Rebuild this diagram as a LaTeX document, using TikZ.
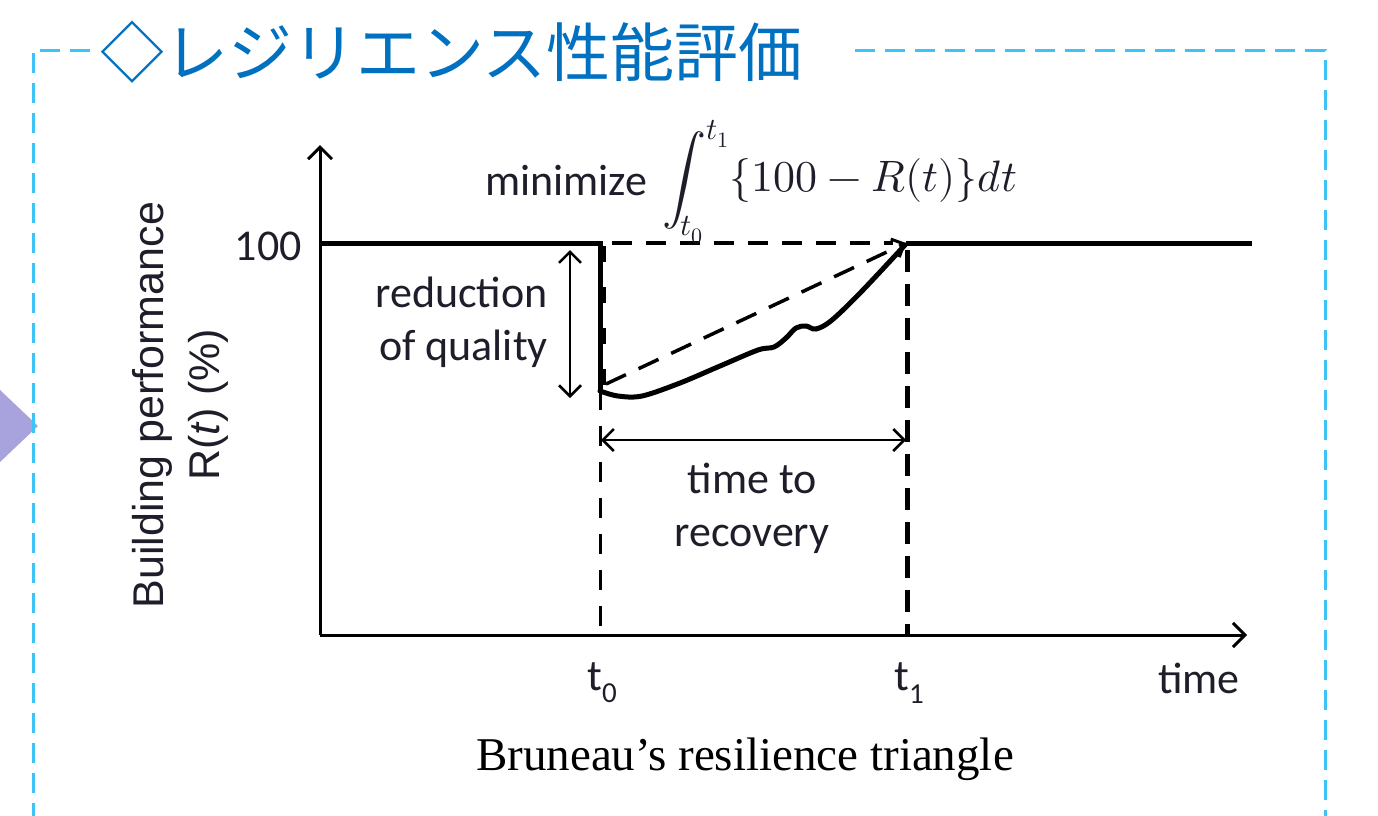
\documentclass[tikz,border=0pt]{standalone}
\usepackage{fontspec}
\usepackage{unicode-math}
\setmathfont{Latin Modern Math}
\usetikzlibrary{arrows.meta}
\newfontfamily\jpfont{Noto Sans CJK JP}
\newfontfamily\calfont{Carlito}
\newfontfamily\arialfont{Liberation Sans}
\newfontfamily\timesfont{Liberation Serif}
\definecolor{bordercol}{HTML}{3EC3F7}
\definecolor{titlecol}{HTML}{0070C0}
\definecolor{tricol}{HTML}{A8A3DD}
\definecolor{inkcol}{HTML}{1E1E2A}
\begin{document}
\begin{tikzpicture}[x=1pt,y=-1pt,
  border/.style={draw=bordercol,line width=3pt,dash pattern=on 20pt off 10pt},
  lbl/.style={inner sep=0pt,text=inkcol,font=\calfont\fontsize{44}{53}\selectfont},
  ylbl/.style={inner sep=0pt,text=inkcol,align=center,font=\arialfont\fontsize{43}{56}\selectfont},
  caplbl/.style={inner sep=0pt,text=black,font=\timesfont\fontsize{47}{56}\selectfont},
  axisline/.style={draw=black,line width=3pt},
  heavy/.style={draw=black,line width=5pt},
  barb/.tip={Straight Barb[length=11pt,width=22pt,line width=2.5pt]},
  dimline/.style={draw=black,line width=2.8pt,barb-barb},
]
\useasboundingbox (0,0) rectangle (1378,815);
% frame
\fill[tricol] (0,390) -- (38,426) -- (0,462) -- cycle;
\draw[border] (90,50) -- (33,50) -- (33,830);
\draw[border] (855,50) -- (1325,50) -- (1325,830);
\node[anchor=west,inner sep=0pt,text=titlecol,font=\jpfont\fontsize{64}{64}\selectfont] (title) at (100,52) {◇レジリエンス性能評価};
% coordinates
\coordinate (O) at (320,635);
\coordinate (ytop) at (320,145);
\coordinate (xend) at (1247,635);
\coordinate (hl) at (320,243);
\coordinate (t0top) at (600,243);
\coordinate (t0low) at (600,390);
\coordinate (t0axis) at (600,635);
\coordinate (t1top) at (906,243);
\coordinate (t1axis) at (907,635);
\coordinate (hr) at (1252,243);
% axes
\draw[axisline,-{Straight Barb[length=12pt,width=24pt,line width=3pt]}] (O) -- (ytop);
\draw[axisline,-{Straight Barb[length=12pt,width=24pt,line width=3pt]}] (O) -- (xend);
% performance
\draw[heavy,line cap=butt] (hl) -- (t0top) -- (t0low);
\draw[heavy] (t1top) -- (hr);
\draw[draw=black,line width=5pt,line cap=round] plot[smooth,tension=0.55] coordinates
  {(600,391) (618,396) (642,396) (680,383) (720,366) (758,350) (774,347) (786,338) (796,328) (806,326) (816,329) (832,320) (862,291) (905,245)};
% dashed
\draw[black,line width=3.5pt,dash pattern=on 20pt off 14pt] (612,243) -- (893,243);
\draw[black,line width=3.5pt,dash pattern=on 22pt off 14pt,-{Straight Barb[length=10pt,width=20pt,line width=3pt]}] (606,384) -- (t1top);
\draw[black,line width=6pt,dash pattern=on 16pt off 25pt] (603,246) -- (603,392);
\draw[black,line width=3pt,dash pattern=on 20pt off 16pt] (t0low) -- (t0axis);
\draw[black,line width=5pt,dash pattern=on 22pt off 12pt] (907,250) -- (t1axis);
% dimension arrows
\coordinate (qa) at (570,250);
\coordinate (qb) at (570,398);
\coordinate (ra) at (601,440);
\coordinate (rb) at (906,440);
\draw[dimline] (qa) -- (qb);
\draw[dimline] (ra) -- (rb);
% labels
\node[lbl,anchor=east] (hundred) at (302,246) {100};
\node[lbl,anchor=east,align=right] (redq) at (548,322) {reduction\\of quality};
\node[lbl,anchor=west] (minim) at (485,181) {minimize};
\node[anchor=west,inner sep=0pt,text=inkcol,font=\fontsize{44}{53}\selectfont] (integ) at (662,182) {$\displaystyle\int_{t_0}^{t_1}\{100-R(t)\}dt$};
\node[lbl,align=center] (ttr) at (752,508) {time to\\recovery};
\node[lbl] (lt0) at (602,683) {t\raisebox{-0.28em}{\fontsize{29}{29}\selectfont 0}};
\node[lbl] (lt1) at (909,683) {t\raisebox{-0.28em}{\fontsize{29}{29}\selectfont 1}};
\node[lbl] (ltime) at (1199,678) {time};
\node[ylbl,rotate=90] (ylab) at (180,405) {Building performance\\R(\textit{t}) (\%)};
\node[caplbl] (caption) at (745,759) {Bruneau’s resilience triangle};
\end{tikzpicture}
\end{document}
